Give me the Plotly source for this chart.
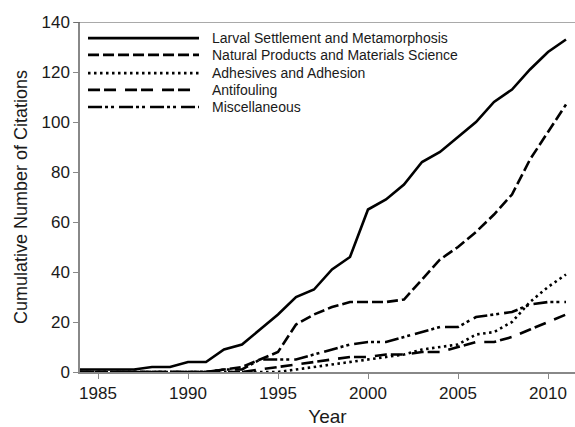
import plotly.graph_objects as go

years = list(range(1984, 2012))
larval = [1, 1, 1, 1, 2, 2, 4, 4, 9, 11, 17, 23, 30, 33, 41, 46, 65, 69, 75, 84, 88, 94, 100, 108, 113, 121, 128, 133]
natural = [0, 0, 0, 0, 0, 0, 0, 0, 1, 2, 5, 8, 19, 23, 26, 28, 28, 28, 29, 37, 45, 50, 56, 63, 71, 85, 96, 107]
adhesives = [0, 0, 0, 0, 0, 0, 0, 0, 0, 0, 0, 0, 1, 2, 3, 4, 5, 6, 7, 9, 10, 11, 15, 16, 20, 28, 34, 39]
antifouling = [0, 0, 0, 0, 0, 0, 0, 0, 0, 0, 1, 2, 3, 4, 5, 6, 6, 7, 7, 8, 8, 10, 12, 12, 14, 17, 20, 23]
misc = [0, 0, 0, 0, 0, 0, 0, 0, 1, 1, 5, 5, 5, 7, 9, 11, 12, 12, 14, 16, 18, 18, 22, 23, 24, 27, 28, 28]

names = ["Larval Settlement and Metamorphosis",
         "Natural Products and Materials Science",
         "Adhesives and Adhesion",
         "Antifouling",
         "Miscellaneous"]
series = [larval, natural, adhesives, antifouling, misc]
dashes = ["solid", "11px,4px", "2.5px,3.5px", "12px,4px,12px,9px", "14px,3px,3px,3px,3px,5px"]

x_ticks = [1985, 1990, 1995, 2000, 2005, 2010]
y_ticks = [0, 20, 40, 60, 80, 100, 120, 140]

font_family = "Liberation Sans, Arial, sans-serif"
txt = "#1a1a1a"

fig = go.Figure()
for name, vals, dash in zip(names, series, dashes):
    fig.add_trace(go.Scatter(x=years, y=vals, mode="lines", name=name,
                             line=dict(color="black", width=2.6, dash=dash),
                             showlegend=False, hoverinfo="skip"))

# manual legend (long line samples)
leg_y = [0.954, 0.906, 0.854, 0.806, 0.757]
for name, dash, yy in zip(names, dashes, leg_y):
    fig.add_shape(type="line", xref="paper", yref="paper", x0=0.0162, x1=0.2404,
                  y0=yy, y1=yy, line=dict(color="black", width=2.6, dash=dash))
    fig.add_annotation(xref="paper", yref="paper", x=0.2626, y=yy, text=name,
                       showarrow=False, xanchor="left", yanchor="middle",
                       font=dict(family=font_family, size=14, color=txt))

# top frame line
fig.add_shape(type="line", xref="paper", yref="y", x0=-0.012, x1=1, y0=140, y1=140,
              line=dict(color="#555555", width=1.2))

fig.update_layout(
    width=575, height=427,
    margin=dict(l=80, r=0, t=22, b=55),
    paper_bgcolor="white", plot_bgcolor="white",
    font=dict(family=font_family, size=17, color=txt),
    xaxis=dict(range=[1984, 2011.5], tickvals=x_ticks, ticks="outside", ticklen=5,
               tickcolor="#888888", showline=True, linecolor="#888888", linewidth=1.5,
               showgrid=False, zeroline=False, automargin=False,
               title=dict(text="Year", font=dict(size=19), standoff=17),
               tickfont=dict(size=17)),
    yaxis=dict(range=[0, 140], tickvals=y_ticks, ticks="outside", ticklen=5,
               tickcolor="#888888", showline=True, linecolor="#888888", linewidth=1.5,
               showgrid=False, zeroline=False, automargin=False,
               title=dict(text="Cumulative Number of Citations", font=dict(size=18), standoff=9),
               tickfont=dict(size=17)),
)

fig.write_html("out.html",
               config={"displayModeBar": False},
               post_script="document.body.style.margin='0px';document.body.style.overflow='hidden';")
